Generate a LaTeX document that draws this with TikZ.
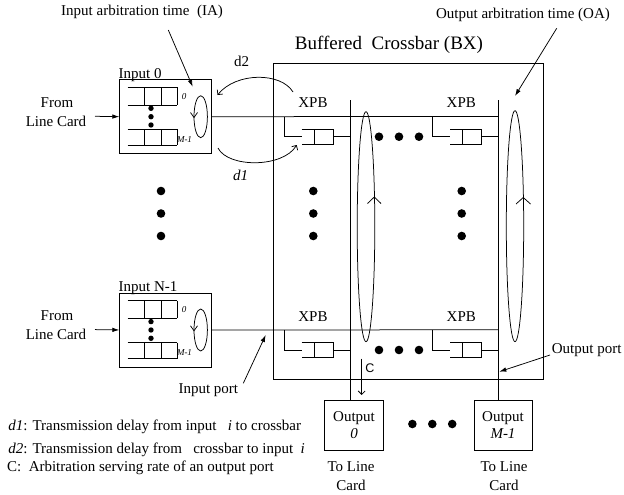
\documentclass[tikz,border=0pt]{standalone}
\usepackage{fontspec}
\setmainfont{Liberation Serif}
\newfontfamily\sansf{Liberation Sans}
\usetikzlibrary{arrows.meta}
\begin{document}
\begin{tikzpicture}[x=1pt,y=-1pt,line width=0.75pt,
  txt/.style={font=\fontsize{15}{17}\selectfont, inner sep=0pt},
  small/.style={font=\fontsize{9}{10}\selectfont\itshape, inner sep=0pt},
  solidarrow/.style={-{Latex[length=7pt,width=4.5pt]}},
  barb/.style={-{Straight Barb[length=3.5pt,width=7pt]}},
  dotc/.style={circle, fill, inner sep=0pt, minimum size=8.6pt},
  qdot/.style={circle, fill, inner sep=0pt, minimum size=5.4pt},
  outbox/.style={draw, inner sep=0pt, minimum height=50pt, align=center, font=\fontsize{15}{17}\selectfont}]
\useasboundingbox (0,0) rectangle (624,495);

% ---------- labels on top ----------
\node[txt] (ialab) at (142,12) {Input arbitration time\ \ (IA)};
\node[txt] (oalab) at (523,15) {Output arbitration time (OA)};
\node[font=\fontsize{19}{21}\selectfont, inner sep=0pt] (bxlab) at (389,45) {Buffered\ \ Crossbar (BX)};

% ---------- crossbar box ----------
\node[draw, anchor=north west, inner sep=0pt, minimum width=270.6pt, minimum height=316pt] (bx) at (272.7,63.3) {};

% ---------- output boxes ----------
\node[outbox, minimum width=58.6pt] (out0) at (354,425) {Output\\\textit{0}};
\node[outbox, minimum width=58pt] (outM) at (503,425) {Output\\\textit{M-1}};
\node[txt, align=center, font=\fontsize{15}{18.5}\selectfont] (tl0) at (351,476) {To Line\\Card};
\node[txt, align=center, font=\fontsize{15}{18.5}\selectfont] (tlM) at (504,476) {To Line\\Card};
\node[dotc] (od1) at (412.4,424) {};
\node[dotc] (od2) at (432.3,424) {};
\node[dotc] (od3) at (452.2,424) {};

% ---------- columns ----------
\coordinate (c0top) at (350,100);
\coordinate (c1top) at (498.3,100);
\draw (c0top) -- (c0top |- out0.north);
\draw (c1top) -- (c1top |- outM.north);

% ---------- rows ----------
\foreach \r/\dy/\lab in {0/0/{Input 0}, 1/213.3/{Input N-1}} {
\begin{scope}[shift={(0,\dy)}]
  \node[draw, anchor=north west, inner sep=0pt, minimum width=91.4pt, minimum height=74pt] (in\r) at (119.3,79.3) {};
  \node[txt, anchor=base west] (inlab\r) at (118.3,78.3) {\lab};
  % queues
  \draw (127.7,87.3) -- (177.3,87.3) (127.7,105) -- (177.3,105)
        (144.3,87.3) -- (144.3,105) (161,87.3) -- (161,105) (177.3,87.3) -- (177.3,105);
  \draw (127.7,129.3) -- (177.3,129.3) (127.7,145.3) -- (177.3,145.3)
        (144.3,129.3) -- (144.3,145.3) (161,129.3) -- (161,145.3) (177.3,129.3) -- (177.3,145.3);
  \node[qdot] (qa\r) at (151,108.3) {};
  \node[qdot] (qb\r) at (151,116.7) {};
  \node[qdot] (qc\r) at (151,125) {};
  \node[small] (q0\r) at (184,96.7) {0};
  \node[small] (qm\r) at (184.5,139.3) {M-1};
  % arbiter
  \draw (200.7,116.7) ellipse [x radius=6.7, y radius=21];
  \draw (190.5,112.5) -- (194,117.5) -- (197.5,112.5);
  % from line card
  \node[txt, anchor=base] (fa\r) at (57,107) {From};
  \node[txt, anchor=base] (fb\r) at (56,126) {Line Card};
  \coordinate (fs\r) at (95,116.3);
  \draw[solidarrow] (fs\r) -- (in\r.west);
  % row line
  \coordinate (re\r) at (498.3,116.5);
  \draw (in\r.east) -- (re\r);
  % crosspoint buffers
  \foreach \c/\cx in {0/350, 1/498.3} {
    \draw (\cx-65.7,116.5) -- (\cx-65.7,136.7) -- (\cx-48.3,136.7);
    \draw (\cx-48.3,129.3) -- (\cx-16.7,129.3) -- (\cx-16.7,144) -- (\cx-48.3,144);
    \draw (\cx-35.5,129.3) -- (\cx-35.5,144);
    \draw (\cx-16.7,136.7) -- (\cx,136.7);
    \node[txt] (xpb\r\c) at (\cx-37,103) {XPB};
  }
  \node[dotc] (rd1\r) at (379,136.7) {};
  \node[dotc] (rd2\r) at (399,136.7) {};
  \node[dotc] (rd3\r) at (419,136.7) {};
\end{scope}
}

% ---------- vertical dots ----------
\foreach \i/\x in {1/161, 2/313.3, 3/461.7} {
  \node[dotc] (va\i) at (\x,191) {};
  \node[dotc] (vb\i) at (\x,213.5) {};
  \node[dotc] (vc\i) at (\x,236) {};
}

% ---------- output arbiters ----------
\draw (366,226.7) ellipse [x radius=8.8, y radius=115];
\draw (367.5,203.5) -- (374.3,197) -- (381,203.5);
\draw (515,226.2) ellipse [x radius=8.7, y radius=115.5];
\draw (516,204) -- (523.3,197.5) -- (530.5,204);

% ---------- annotation arrows ----------
\coordinate (iaS) at (168.3,30);
\coordinate (iaE) at (192.7,86.7);
\draw[solidarrow] (iaS) -- (iaE);
\coordinate (oaS) at (556.7,28.3);
\coordinate (oaE) at (515,96);
\draw[solidarrow] (oaS) -- (oaE);

\node[txt] (d2lab) at (241.5,61.7) {d2};
\node[txt] (d1lab) at (240.5,175) {\textit{d1}};
\coordinate (d2S) at (293,92);
\coordinate (d2E) at (217.5,95);
\draw[barb] (d2S) .. controls (281,72) and (236,72) .. (d2E);
\coordinate (d1S) at (218,148);
\coordinate (d1E) at (296.7,145);
\draw[barb] (d1S) .. controls (228,168) and (283,168) .. (d1E);

\node[txt] (iplab) at (208.3,390) {Input port};
\coordinate (ipS) at (243.3,383.3);
\coordinate (ipE) at (265.7,335);
\draw[solidarrow] (ipS) -- (ipE);

\node[txt] (oplab) at (586.7,350) {Output port};
\coordinate (opS) at (550,355);
\coordinate (opE) at (499.3,371.7);
\draw[solidarrow] (opS) -- (opE);

\node[font=\sansf\fontsize{12.5}{14}\selectfont, inner sep=0pt] (clab) at (370,368.3) {C};
\coordinate (cS) at (361.7,358.5);
\coordinate (cE) at (361.7,395);
\draw[barb] (cS) -- (cE);

% ---------- legend ----------
\node[txt, anchor=base west] (lg1) at (8,430) {\textit{d1}: Transmission delay from input\ \ \ \textit{i} to crossbar};
\node[txt, anchor=base west] (lg2) at (8,453.3) {\textit{d2}: Transmission delay from\ \ \ crossbar to input\ \ \textit{i}};
\node[txt, anchor=base west] (lg3) at (6.7,471.7) {C:\ \ Arbitration serving rate of an output port};
\end{tikzpicture}
\end{document}
